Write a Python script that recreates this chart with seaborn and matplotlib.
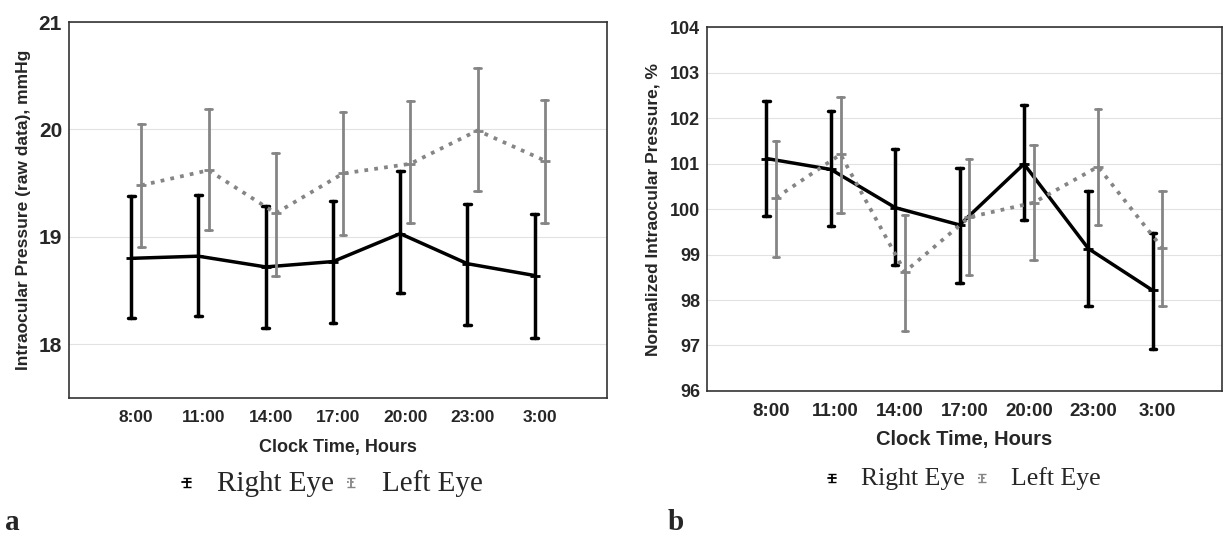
import numpy as np
import pandas as pd
import matplotlib
matplotlib.use('Agg')
import matplotlib.pyplot as plt
from matplotlib.container import ErrorbarContainer
from matplotlib.legend_handler import HandlerErrorbar
import seaborn as sns

# clock times on the x axis
times = ['8:00', '11:00', '14:00', '17:00', '20:00', '23:00', '3:00']
eyes = ['Right Eye', 'Left Eye']

# panel a: raw IOP, mmHg (mean, lower and upper end of error bar)
raw_right_mean = [18.80, 18.82, 18.72, 18.77, 19.03, 18.75, 18.64]
raw_right_low = [18.24, 18.26, 18.15, 18.20, 18.48, 18.18, 18.06]
raw_right_high = [19.38, 19.39, 19.29, 19.33, 19.61, 19.31, 19.21]
raw_left_mean = [19.48, 19.62, 19.22, 19.59, 19.68, 19.99, 19.71]
raw_left_low = [18.91, 19.06, 18.64, 19.02, 19.13, 19.43, 19.13]
raw_left_high = [20.05, 20.19, 19.78, 20.16, 20.26, 20.57, 20.27]

# panel b: normalized IOP, %
norm_right_mean = [101.11, 100.87, 100.03, 99.65, 100.99, 99.13, 98.21]
norm_right_low = [99.84, 99.62, 98.76, 98.38, 99.75, 97.86, 96.93]
norm_right_high = [102.38, 102.16, 101.31, 100.91, 102.28, 100.40, 99.48]
norm_left_mean = [100.25, 101.20, 98.62, 99.82, 100.14, 100.93, 99.14]
norm_left_low = [98.95, 99.92, 97.32, 98.55, 98.87, 99.65, 97.86]
norm_left_high = [101.50, 102.47, 99.87, 101.10, 101.41, 102.20, 100.40]


def long_table(series):
    # three rows per point (low, mean, high): median gives the mean,
    # the 100% percentile interval gives the error bar ends
    rows = []
    for eye, (mean, low, high) in series.items():
        for t, m, lo, hi in zip(times, mean, low, high):
            for v in (lo, m, hi):
                rows.append({'time': t, 'eye': eye, 'value': v})
    return pd.DataFrame(rows)


df_raw = long_table({
    'Right Eye': (raw_right_mean, raw_right_low, raw_right_high),
    'Left Eye': (raw_left_mean, raw_left_low, raw_left_high),
})
df_norm = long_table({
    'Right Eye': (norm_right_mean, norm_right_low, norm_right_high),
    'Left Eye': (norm_left_mean, norm_left_low, norm_left_high),
})

sns.set_theme(style='whitegrid')
plt.rcParams['font.family'] = ['Liberation Sans', 'DejaVu Sans']
plt.rcParams['grid.color'] = '#e2e2e2'
plt.rcParams['grid.linewidth'] = 0.8

palette = {'Right Eye': 'black', 'Left Eye': '#858585'}

fig = plt.figure(figsize=(12.25, 5.34), dpi=100)
ax1 = fig.add_axes([0.0563, 0.2547, 0.4392, 0.7041])
ax2 = fig.add_axes([0.5771, 0.2678, 0.4204, 0.6816])


def draw_panel(ax, df):
    sns.pointplot(data=df, x='time', y='value', hue='eye', order=times,
                  hue_order=eyes, palette=palette, estimator='median',
                  errorbar=('pi', 100), dodge=0.15, capsize=0.1,
                  markers=['_', '_'], linestyles=['-', ':'],
                  markersize=7, err_kws={'linewidth': 2.0},
                  ax=ax)
    for line in ax.lines:
        if line.get_linestyle() == '-' and line.get_color() in ('black', 'k', (0, 0, 0, 1)):
            line.set_linewidth(2.5)
    if ax.get_legend() is not None:
        ax.get_legend().remove()
    ax.set_xlim(-1, 7)
    for s in ax.spines.values():
        s.set_color('#333333')
        s.set_linewidth(1.2)
    ax.tick_params(axis='both', length=0)


draw_panel(ax1, df_raw)
draw_panel(ax2, df_norm)

# panel a axes
ax1.set_ylim(17.5, 21)
ax1.set_yticks([18, 19, 20, 21])
ax1.tick_params(axis='y', labelsize=15, pad=5)
ax1.tick_params(axis='x', labelsize=12.5, pad=9)
for lab in ax1.get_xticklabels() + ax1.get_yticklabels():
    lab.set_fontweight('bold')
ax1.set_xlabel('Clock Time, Hours', fontsize=13, fontweight='bold', labelpad=10)
ax1.set_ylabel('Intraocular Pressure (raw data), mmHg', fontsize=12.5, fontweight='bold')
ax1.yaxis.set_label_coords(-0.07, 0.5)

# panel b axes
ax2.set_ylim(96, 104)
ax2.set_yticks(range(96, 105))
ax2.tick_params(axis='y', labelsize=13, pad=5)
ax2.tick_params(axis='x', labelsize=13.5, pad=9)
for lab in ax2.get_xticklabels() + ax2.get_yticklabels():
    lab.set_fontweight('bold')
ax2.set_xlabel('Clock Time, Hours', fontsize=14.5, fontweight='bold', labelpad=7)
ax2.set_ylabel('Normalized Intraocular Pressure, %', fontsize=12.5, fontweight='bold')
ax2.yaxis.set_label_coords(-0.09, 0.5)

# legends with small error-bar icons
for ax, anchor, size, txtpad, colsp in ((ax1, (0.2714, 0.095), 21, 0.9, 0.42),
                                        (ax2, (0.7873, 0.103), 18.5, 1.0, 0.5)):
    handles = []
    for eye in eyes:
        h = ax.errorbar([np.nan], [np.nan], yerr=[[np.nan], [np.nan]],
                        color=palette[eye], capsize=2.8, elinewidth=1.3,
                        linewidth=1.3, linestyle='-' if eye == 'Right Eye' else ':')
        handles.append(h)
    fig.legend(handles, eyes, loc='center', bbox_to_anchor=anchor, ncol=2,
               frameon=False, handlelength=0.3, handleheight=0.3,
               handletextpad=txtpad, columnspacing=colsp,
               handler_map={ErrorbarContainer: HandlerErrorbar(xerr_size=0.15)},
               prop={'family': ['Liberation Serif', 'DejaVu Serif'], 'size': size})

fig.text(0.004, 0.008, 'a', fontsize=21, fontweight='bold',
         family=['Liberation Serif', 'DejaVu Serif'])
fig.text(0.545, 0.008, 'b', fontsize=21, fontweight='bold',
         family=['Liberation Serif', 'DejaVu Serif'])

fig.savefig('out.png', dpi=100)
